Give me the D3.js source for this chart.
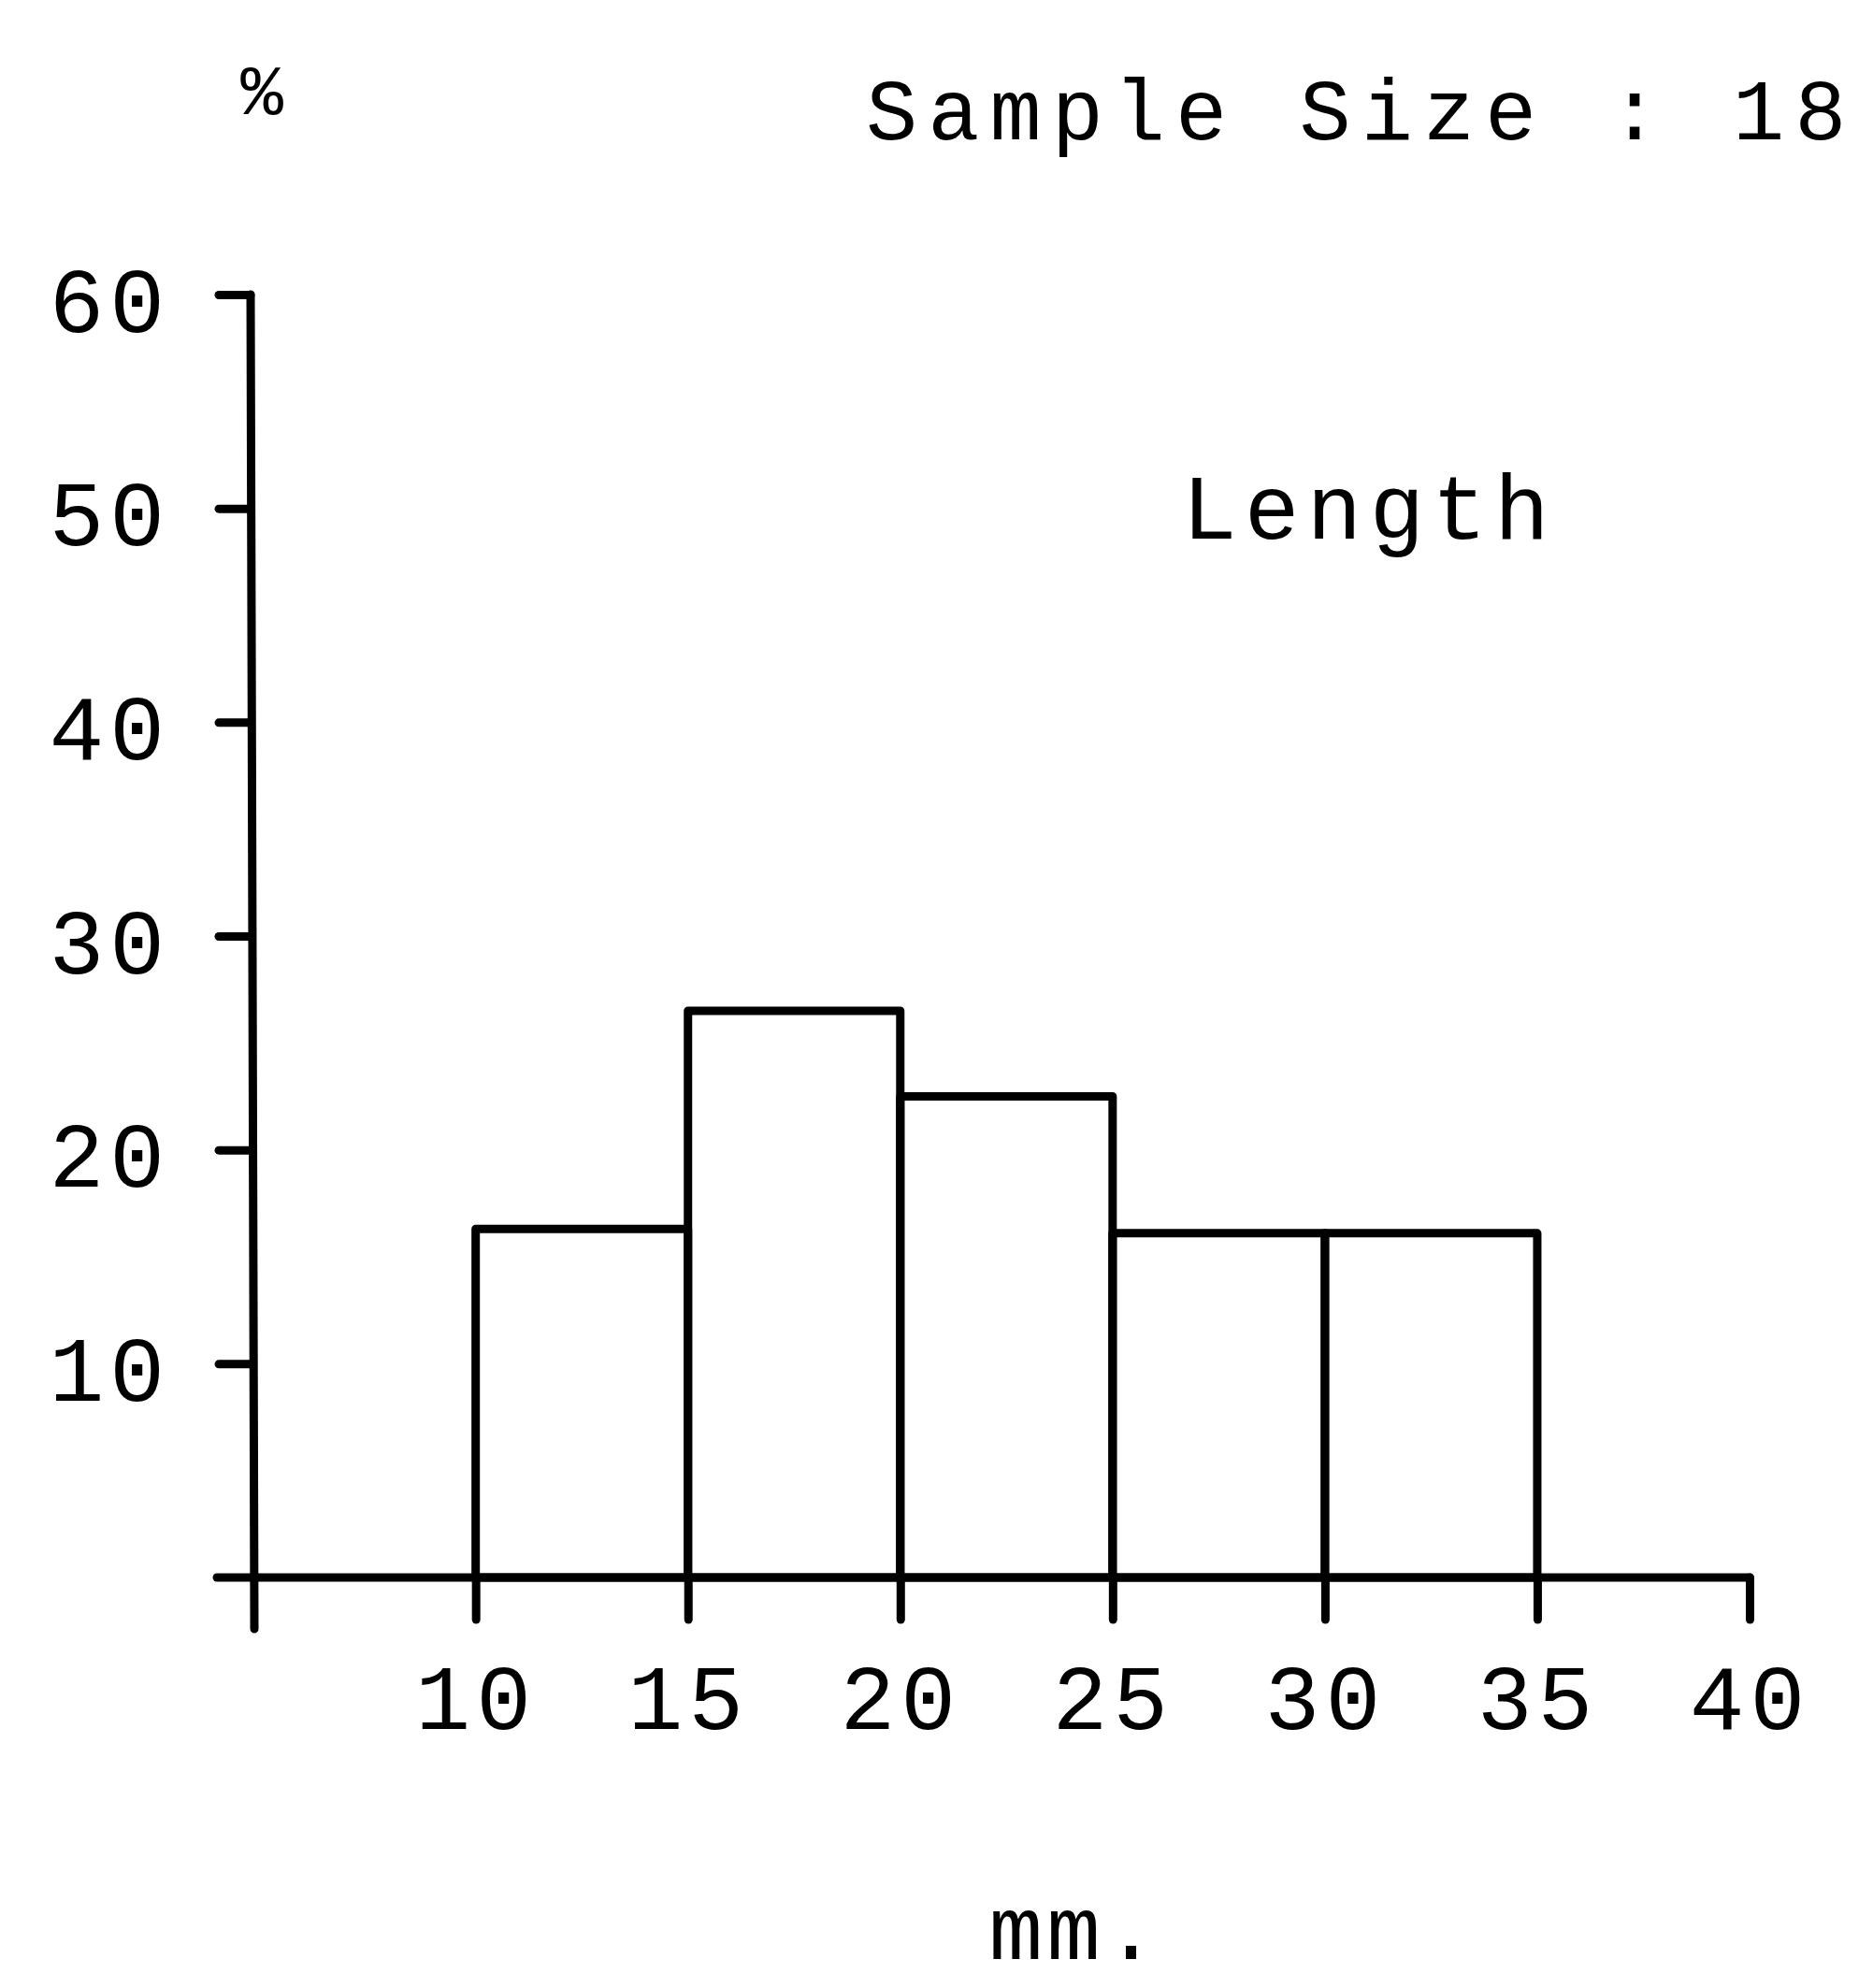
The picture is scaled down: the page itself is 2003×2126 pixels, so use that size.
<!DOCTYPE html>
<html>
  <head>
    <meta charset="utf-8">
    <title>Length histogram</title>
    <style type="text/css">
      body { margin: 0; background: #fff; }
      svg text { font-family: "Liberation Mono", "DejaVu Sans Mono", monospace; fill: #000; }
      .axis line, .axis path { stroke: #000; stroke-width: 9; stroke-linecap: round; }
      .bar { fill: none; stroke: #000; stroke-width: 9; stroke-linejoin: round; }
    </style>
  </head>
  <body>
    <div id="main"></div>
    <script src="https://d3js.org/d3.v7.min.js"></script>
    <script>
    // data
    var binStarts = [10, 15, 20, 25, 30];
    var binWidth = 5;
    var percents = [16.3, 26.5, 22.5, 16.1, 16.1];
    var xTicks = [10, 15, 20, 25, 30, 35, 40];
    var yTicks = [10, 20, 30, 40, 50, 60];

    var width = 2003, height = 2126;

    var x = d3.scaleLinear().domain([4.7, 40]).range([268, 1871]);
    var y = d3.scaleLinear().domain([0, 60]).range([1687, 315]);

    var svg = d3.select("#main").append("svg")
        .attr("width", width)
        .attr("height", height);

    // bars
    svg.selectAll("rect.bar")
      .data(binStarts)
      .enter().append("rect")
        .attr("class", "bar")
        .attr("x", function(d) { return x(d); })
        .attr("width", function(d) { return x(d + binWidth) - x(d); })
        .attr("y", function(d, i) { return y(percents[i]); })
        .attr("height", function(d, i) { return y(0) - y(percents[i]); });

    // x axis
    var xAxis = svg.append("g")
        .attr("class", "axis")
        .attr("transform", "translate(0," + y(0) + ")")
        .call(d3.axisBottom(x).tickValues(xTicks).tickSize(45).tickSizeOuter(0).tickFormat(d3.format("d")));
    xAxis.select(".domain").remove();
    xAxis.append("line")
        .attr("x1", x.range()[0] - 36).attr("x2", x(40))
        .attr("y1", 0).attr("y2", 0);
    xAxis.selectAll(".tick text")
        .attr("y", 162)
        .attr("dy", 0)
        .style("font-size", "98px")
        .style("letter-spacing", "6px");

    // y axis
    var yAxis = svg.append("g")
        .attr("class", "axis")
        .attr("transform", "translate(" + x.range()[0] + ",0)")
        .call(d3.axisLeft(y).tickValues(yTicks).tickSize(34).tickSizeOuter(0).tickFormat(d3.format("d")));
    yAxis.select(".domain").remove();
    yAxis.append("line")
        .attr("x1", 0).attr("x2", 4)
        .attr("y1", y(60)).attr("y2", y(0) + 55);
    yAxis.selectAll(".tick text")
        .attr("x", -86)
        .attr("dy", "0.4em")
        .style("font-size", "98px")
        .style("letter-spacing", "6px");

    // labels
    svg.append("text")
        .attr("x", 280).attr("y", 122)
        .attr("text-anchor", "middle")
        .style("font-size", "76px")
        .text("%");

    svg.append("text")
        .attr("x", 926).attr("y", 149)
        .style("font-size", "92px")
        .style("letter-spacing", "11px")
        .text("Sample Size : 18");

    svg.append("text")
        .attr("x", 1264).attr("y", 576)
        .style("font-size", "98px")
        .style("letter-spacing", "8px")
        .text("Length");

    svg.append("text")
        .attr("x", 1150).attr("y", 2095)
        .attr("text-anchor", "middle")
        .style("font-size", "96px")
        .style("letter-spacing", "4px")
        .text("mm.");
    </script>
  </body>
</html>
